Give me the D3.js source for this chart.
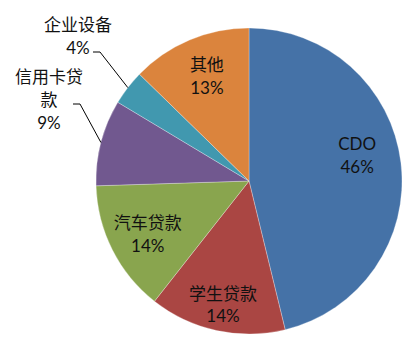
<!DOCTYPE html>
<html lang="zh">
<head>
    <meta charset="UTF-8">
    <title>资产构成</title>
    <style>
        body {
            margin: 0;
            background: #fff;
        }
        svg text {
            font-family: "Lato", "Noto Sans CJK SC", sans-serif;
            font-size: 17px;
            fill: #111;
        }
    </style>
</head>
<body>
    <div id="chart"></div>

    <script src="https://d3js.org/d3.v7.min.js"></script>
    <script>
        // Данные (подписи — как на ней)
        const categories = ["CDO", "学生贷款", "汽车贷款", "信用卡贷款", "企业设备", "其他"];
        const shares = [46.2, 14.4, 13.9, 9.1, 3.7, 12.7];
        const colors = ["#4572A7", "#AA4643", "#89A54E", "#71588F", "#4198AF", "#DB843D"];

        const width = 409, height = 340;
        const cx = 249, cy = 181, radius = 153;

        const svg = d3.select("#chart")
            .append("svg")
            .attr("width", width)
            .attr("height", height);

        const g = svg.append("g")
            .attr("transform", `translate(${cx},${cy})`);

        const data = categories.map((name, i) => ({ name, value: shares[i], color: colors[i] }));

        const pie = d3.pie()
            .sort(null)
            .value(d => d.value);

        const arc = d3.arc()
            .innerRadius(0)
            .outerRadius(radius);

        const arcs = pie(data);

        g.selectAll("path.slice")
            .data(arcs)
            .enter()
            .append("path")
            .attr("class", "slice")
            .attr("d", arc)
            .attr("fill", d => d.data.color)
            .attr("stroke", "#fff")
            .attr("stroke-opacity", 0.4)
            .attr("stroke-width", 0.7);

        // Положение подписей: угол (град.) и расстояние от центра
        const labelPlace = {
            "CDO":   { angle: 75, r: 112, inside: true },
            "学生贷款": { angle: 192.2, r: 123, inside: true },
            "汽车贷款": { angle: 243.7, r: 113, inside: true },
            "其他":    { angle: 338.7, r: 116, inside: true },
            "信用卡贷款": { x: -200, y: -98, lines: ["信用卡贷", "款"], leader: [[-176, -77], [-169, -77]] },
            "企业设备":   { x: -171, y: -150, lines: ["企业设备"], leader: [[-156, -129], [-149, -129]] }
        };

        const pct = v => Math.round(v) + "%";

        arcs.forEach(d => {
            const p = labelPlace[d.data.name];
            if (p.inside) {
                const a = p.angle * Math.PI / 180;
                const x = p.r * Math.sin(a);
                const y = -p.r * Math.cos(a);
                const t = g.append("text")
                    .attr("text-anchor", "middle")
                    .attr("x", x)
                    .attr("y", y);
                t.append("tspan").attr("x", x).attr("dy", "-0.1em").text(d.data.name);
                t.append("tspan").attr("x", x).attr("dy", "1.35em").text(pct(d.data.value));
            } else {
                const t = g.append("text")
                    .attr("text-anchor", "middle")
                    .attr("x", p.x)
                    .attr("y", p.y);
                p.lines.forEach((ln, i) => {
                    t.append("tspan").attr("x", p.x).attr("dy", i === 0 ? 0 : "1.35em").text(ln);
                });
                t.append("tspan").attr("x", p.x).attr("dy", "1.35em").text(pct(d.data.value));

                // линия-выноска к середине дуги
                const mid = (d.startAngle + d.endAngle) / 2;
                const end = [radius * Math.sin(mid), -radius * Math.cos(mid)];
                const pts = p.leader.concat([end]);
                g.append("path")
                    .attr("d", d3.line()(pts))
                    .attr("fill", "none")
                    .attr("stroke", "#000")
                    .attr("stroke-width", 1);
            }
        });
    </script>
</body>
</html>
